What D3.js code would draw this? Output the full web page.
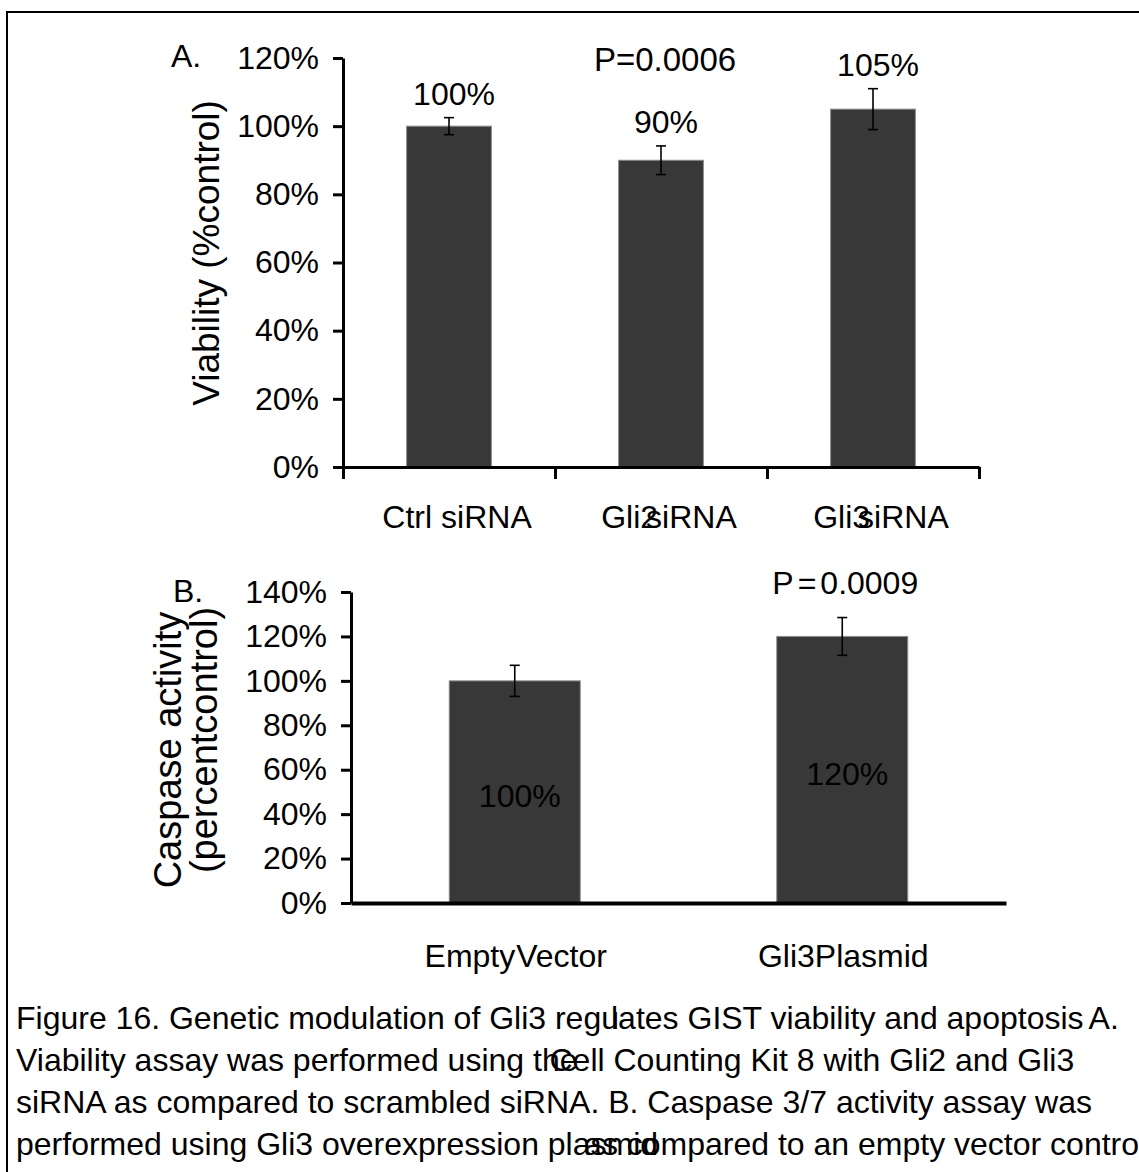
<!DOCTYPE html>
<html><head><meta charset="utf-8">
<script src="https://cdn.jsdelivr.net/npm/d3@7"></script>
<style>
body{margin:0;background:#fff}
svg{display:block}
text{font-family:"Liberation Sans",Arial,Helvetica,sans-serif;fill:#000}
</style>
</head><body>
<svg id="c" width="1139" height="1172"></svg>
<script>
// ---------- DATA ----------
// Panel A: viability
const catsA = ["Ctrl siRNA", "Gli2 siRNA", "Gli3 siRNA"];
const valsA = [100, 90, 105];
const errA = [2.5, 4.2, 6];
const labelsA = ["100%", "90%", "105%"];
const ticksA = [0, 20, 40, 60, 80, 100, 120];
const pTextA = "P=0.0006";
const yTitleA = "Viability (%control)";

// Panel B: caspase
const catsB = ["Empty Vector", "Gli3 Plasmid"];
const valsB = [100, 120];
const errB = [7, 8.5];
const labelsB = ["100%", "120%"];
const ticksB = [0, 20, 40, 60, 80, 100, 120, 140];
const pTextB = ["P", "=", "0.0009"];
const yTitleB = ["Caspase activity", "(percent control)"];

// Caption (segments as laid out in the figure)
const captionLines = [
  ["Figure 16. Genetic modulation of Gli3 regu", "lates GIST viability and apoptosis", "A."],
  ["Viability assay was performed using the", "Cell Counting Kit 8 with Gli2 and Gli3"],
  ["siRNA as compared to scrambled siRNA. B. Caspase 3/7 activity assay was"],
  ["performed using Gli3 overexpression plasmid", "as compared to an empty vector control"]
];

// ---------- STYLE / LAYOUT ----------
const FS = 32;
const barFill = "#383838", barEdge = "#8c8c8c";
const svg = d3.select("#c");

svg.append("rect").attr("x", 7).attr("y", 12).attr("width", 1300).attr("height", 1300)
  .attr("fill", "none").attr("stroke", "#000").attr("stroke-width", 2);

function styleAxis(g) {
  g.select(".domain").attr("stroke", "#000").attr("stroke-width", 3);
  g.selectAll(".tick line").attr("stroke", "#000").attr("stroke-width", 3);
  g.selectAll(".tick text").style("font-size", FS + "px")
    .style("font-family", '"Liberation Sans",Arial,sans-serif').attr("fill", "#000");
}

function drawBars(g, cats, vals, errs, x, y, capW) {
  g.selectAll("rect.bar").data(cats).join("rect").attr("class", "bar")
    .attr("x", d => x(d)).attr("width", x.bandwidth())
    .attr("y", (d, i) => y(vals[i])).attr("height", (d, i) => y(0) - y(vals[i]))
    .attr("fill", barFill).attr("stroke", barEdge).attr("stroke-width", 1);
  const eb = g.selectAll("g.err").data(cats).join("g").attr("class", "err")
    .attr("stroke", "#000").attr("stroke-width", 1.6);
  eb.append("line").attr("x1", d => x(d) + x.bandwidth() / 2).attr("x2", d => x(d) + x.bandwidth() / 2)
    .attr("y1", (d, i) => y(vals[i] + errs[i])).attr("y2", (d, i) => y(vals[i] - errs[i]));
  eb.append("line").attr("x1", d => x(d) + x.bandwidth() / 2 - capW).attr("x2", d => x(d) + x.bandwidth() / 2 + capW)
    .attr("y1", (d, i) => y(vals[i] + errs[i])).attr("y2", (d, i) => y(vals[i] + errs[i]));
  eb.append("line").attr("x1", d => x(d) + x.bandwidth() / 2 - capW).attr("x2", d => x(d) + x.bandwidth() / 2 + capW)
    .attr("y1", (d, i) => y(vals[i] - errs[i])).attr("y2", (d, i) => y(vals[i] - errs[i]));
}

// ---------- PANEL A ----------
const A = {left: 343, right: 979, top: 58, bottom: 467};
const xA = d3.scaleBand().domain(catsA).range([A.left, A.right]).paddingInner(0.6).paddingOuter(0.3);
const yA = d3.scaleLinear().domain([0, 120]).range([A.bottom, A.top]);
const gA = svg.append("g");

drawBars(gA, catsA, valsA, errA, xA, yA, 5);

const axYA = gA.append("g").attr("transform", `translate(${A.left},0)`)
  .call(d3.axisLeft(yA).tickValues(ticksA).tickFormat(d => d + "%").tickSize(10).tickSizeOuter(0).tickPadding(14));
styleAxis(axYA);

const xEdgeA = d3.scaleLinear().domain([0, catsA.length]).range([A.left, A.right]);
const axXA = gA.append("g").attr("transform", `translate(0,${A.bottom})`)
  .call(d3.axisBottom(xEdgeA).tickValues(d3.range(catsA.length + 1)).tickFormat("").tickSize(12).tickSizeOuter(0));
styleAxis(axXA);

// category labels A
const gapA = [9, -12, -12];
catsA.forEach((c, i) => {
  const parts = c.split(" ");
  const t = gA.append("text").attr("x", xA(c) + xA.bandwidth() / 2 + 8).attr("y", A.bottom + 61)
    .attr("text-anchor", "middle").style("font-size", FS + "px");
  t.append("tspan").text(parts[0]);
  t.append("tspan").attr("dx", gapA[i]).text(parts[1]);
});

// value labels A
gA.selectAll("text.vl").data(catsA).join("text").attr("class", "vl")
  .attr("x", d => xA(d) + xA.bandwidth() / 2 + 5)
  .attr("y", (d, i) => yA(valsA[i] + errA[i]) - 13)
  .attr("text-anchor", "middle").style("font-size", FS + "px")
  .text((d, i) => labelsA[i]);

gA.append("text").attr("x", xA(catsA[1]) + xA.bandwidth() / 2 + 4).attr("y", yA(120) + 13)
  .attr("text-anchor", "middle").style("font-size", "33px").text(pTextA);

gA.append("text").attr("x", 171).attr("y", yA(120) + 9).style("font-size", FS + "px").text("A.");

gA.append("text").attr("transform", `translate(219,253) rotate(-90)`)
  .attr("text-anchor", "middle").style("font-size", "37px").text(yTitleA);

// ---------- PANEL B ----------
const B = {left: 351, right: 1006, top: 592, bottom: 903};
const xB = d3.scaleBand().domain(catsB).range([B.left, B.right]).paddingInner(0.6).paddingOuter(0.3);
const yB = d3.scaleLinear().domain([0, 140]).range([B.bottom, B.top]);
const gB = svg.append("g");

drawBars(gB, catsB, valsB, errB, xB, yB, 5);

const axYB = gB.append("g").attr("transform", `translate(${B.left},0)`)
  .call(d3.axisLeft(yB).tickValues(ticksB).tickFormat(d => d + "%").tickSize(10).tickSizeOuter(0).tickPadding(14));
styleAxis(axYB);

const xEdgeB = d3.scaleLinear().domain([0, 1]).range([B.left, B.right]);
const axXB = gB.append("g").attr("transform", `translate(0,${B.bottom})`)
  .call(d3.axisBottom(xEdgeB).tickValues([]).tickSizeOuter(0));
styleAxis(axXB);
axXB.select(".domain").attr("stroke-width", 4);

const gapB = [1, 0];
catsB.forEach((c, i) => {
  const parts = c.split(" ");
  const t = gB.append("text").attr("x", xB(c) + xB.bandwidth() / 2 + 1).attr("y", B.bottom + 64)
    .attr("text-anchor", "middle").style("font-size", FS + "px");
  t.append("tspan").text(parts[0]);
  t.append("tspan").attr("dx", gapB[i]).text(parts[1]);
});

// value labels B (centered inside bars)
gB.selectAll("text.vl").data(catsB).join("text").attr("class", "vl")
  .attr("x", d => xB(d) + xB.bandwidth() / 2 + 5)
  .attr("y", (d, i) => yB(valsB[i] / 2) + 4)
  .attr("dy", "0.35em")
  .attr("text-anchor", "middle").style("font-size", FS + "px").attr("fill", "#111")
  .text((d, i) => labelsB[i]);

{
  const t = gB.append("text").attr("x", xB(catsB[1]) + xB.bandwidth() / 2 + 3).attr("y", yB(140) + 2)
    .attr("text-anchor", "middle").style("font-size", FS + "px");
  pTextB.forEach((p, i) => t.append("tspan").attr("dx", i ? 4 : 0).text(p));
}

gB.append("text").attr("x", 173).attr("y", yB(140) + 10).style("font-size", FS + "px").text("B.");

{
  gB.append("text").attr("transform", `translate(181,750) rotate(-90)`)
    .attr("text-anchor", "middle").style("font-size", "38px").text(yTitleB[0]);
  const parts = yTitleB[1].split(" ");
  const t = gB.append("text").attr("transform", `translate(217,740) rotate(-90)`)
    .attr("text-anchor", "middle").style("font-size", "38px");
  t.append("tspan").text(parts[0]);
  t.append("tspan").text(parts[1]);
}

// ---------- CAPTION ----------
const capX = 16, capY0 = 1029, capDY = 42;
const segDx = [[0, -8, 5], [0, -28], [0], [0, -74]];
captionLines.forEach((segs, li) => {
  const t = svg.append("text").attr("x", capX).attr("y", capY0 + li * capDY).style("font-size", FS + "px");
  segs.forEach((s, si) => t.append("tspan").attr("dx", segDx[li][si]).text(s));
});
</script>
</body></html>
